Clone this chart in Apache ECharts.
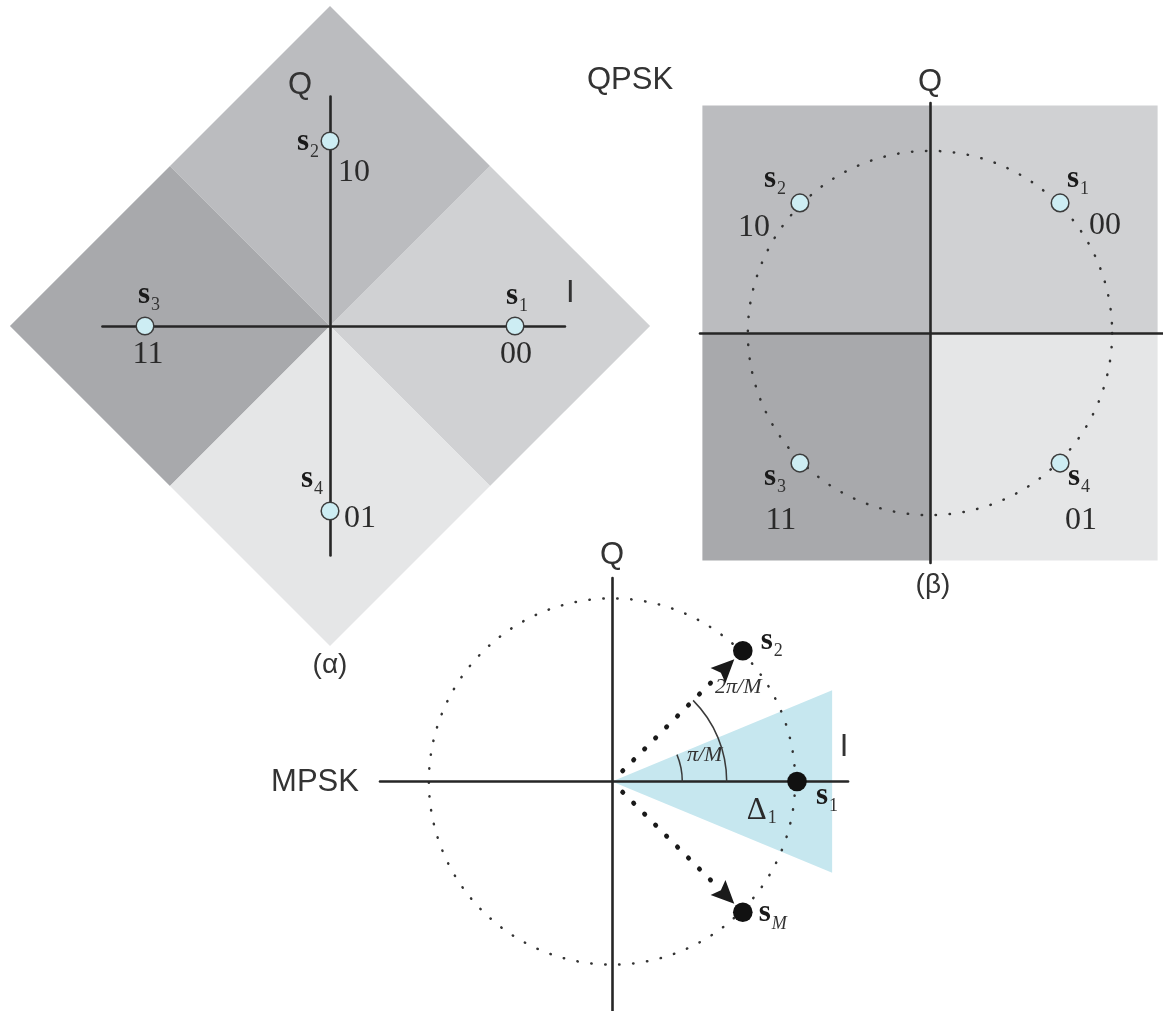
<!DOCTYPE html>
<html>
<head>
<meta charset="utf-8">
<script src="https://cdn.jsdelivr.net/npm/echarts@6/dist/echarts.min.js"></script>
<style>
  html, body { margin: 0; padding: 0; background: #ffffff; }
  #chart { width: 1163px; height: 1011px; }
</style>
</head>
<body>
<div id="chart"></div>
<script>
// ---- constellation data ----
// (α) QPSK, symbols on the axes
const rotI = [1, 0, -1, 0];
const rotQ = [0, 1, 0, -1];
const rotIdx = ['1', '2', '3', '4'];
const rotBits = ['00', '10', '11', '01'];

// (β) QPSK, symbols on the diagonals
const qpskI = [0.707, -0.707, -0.707, 0.707];
const qpskQ = [0.707, 0.707, -0.707, -0.707];
const qpskIdx = ['1', '2', '3', '4'];
const qpskBits = ['00', '10', '11', '01'];

// MPSK (M = 8): s1, s2 and sM
const M = 8;
const mpskI = [1, 0.707, 0.707];
const mpskQ = [0, 0.707, -0.707];
const mpskIdx = ['1', '2', 'M'];

// ---- styling ----
const SERIF = '"Liberation Serif", "DejaVu Serif", serif';
const SANS = '"Liberation Sans", Arial, sans-serif';
const INK = '#262626';
const regionFill = { '00': '#d0d1d3', '10': '#bbbcbf', '11': '#a8a9ac', '01': '#e5e6e7' };
const symbolFill = '#cdedf3';
const wedgeFill = '#c6e7ef';

// label offsets (pixels from the symbol centre)
const rotNameOff = [[2, -30], [-22, 1], [4, -31], [-18, -32]];
const rotBitsOff = [[1, 29], [24, 32], [3, 29], [30, 8]];
const qpskNameOff = [[18, -24], [-25, -24], [-25, 14], [19, 14]];
const qpskBitsOff = [[45, 23], [-46, 25], [-19, 58], [21, 58]];
const mpskNameOff = [[30, 14], [29, -10], [30, 1]];

// panels: centre (px), pixels per unit, axis extents
const panels = [
  { cx: 330, cy: 326, k: 185, x: [-1.23, 1.27], y: [-1.24, 1.24] },
  { cx: 930, cy: 333, k: 184, x: [-1.25, 1.265], y: [-1.25, 1.25] },
  { cx: 612, cy: 781.5, k: 185, x: [-1.254, 1.276], y: [-1.24, 1.1] }
];

function subRich(italicSub) {
  return {
    s: { fontFamily: SERIF, fontWeight: 'bold', fontSize: 31, fill: '#1a1a1a' },
    sub: { fontFamily: SERIF, fontSize: 18, fontStyle: italicSub ? 'italic' : 'normal', fill: '#333', padding: [21, 0, 0, 1] }
  };
}

function nameText(x, y, sub, italicSub) {
  return {
    type: 'text', x: x, y: y, z2: 10,
    style: { text: '{s|s}{sub|' + sub + '}', rich: subRich(italicSub), align: 'center', verticalAlign: 'middle' }
  };
}

function plainText(x, y, txt) {
  return {
    type: 'text', x: x, y: y, z2: 10,
    style: { text: txt, font: '32px ' + SERIF, fill: '#2a2a2a', align: 'center', verticalAlign: 'middle' }
  };
}

// hollow light-blue symbols with two labels each
function qpskPoints(gi, I, Q, idx, bits, nOff, bOff) {
  return {
    type: 'custom', xAxisIndex: gi, yAxisIndex: gi, z: 6,
    data: I.map((v, i) => [v, Q[i]]),
    renderItem(params, api) {
      const i = params.dataIndex;
      const p = api.coord([api.value(0), api.value(1)]);
      return {
        type: 'group',
        children: [
          { type: 'circle', shape: { cx: p[0], cy: p[1], r: 8.8 }, style: { fill: symbolFill, stroke: '#3c3c3c', lineWidth: 1.5 } },
          nameText(p[0] + nOff[i][0], p[1] + nOff[i][1], idx[i], false),
          plainText(p[0] + bOff[i][0], p[1] + bOff[i][1], bits[i])
        ]
      };
    }
  };
}

function dottedCircle(gi, r) {
  return {
    type: 'custom', xAxisIndex: gi, yAxisIndex: gi, z: 2,
    data: [[0, 0]],
    renderItem(params, api) {
      const c = api.coord([0, 0]);
      const rr = api.size([r, r])[0];
      return {
        type: 'circle', shape: { cx: c[0], cy: c[1], r: rr },
        style: { fill: null, stroke: '#333', lineWidth: 2.5, lineDash: [0.4, 13.6], lineCap: 'round' }
      };
    }
  };
}

const option = {
  animation: false,
  backgroundColor: '#ffffff',
  grid: panels.map(p => ({
    left: p.cx + p.x[0] * p.k,
    top: p.cy - p.y[1] * p.k,
    width: (p.x[1] - p.x[0]) * p.k,
    height: (p.y[1] - p.y[0]) * p.k,
    containLabel: false
  })),
  xAxis: panels.map((p, i) => ({
    gridIndex: i, type: 'value', min: p.x[0], max: p.x[1], z: 4,
    axisLine: { show: true, onZero: true, lineStyle: { color: INK, width: 2.6 } },
    axisTick: { show: false }, axisLabel: { show: false }, splitLine: { show: false },
    name: i === 1 ? '' : 'I', nameLocation: 'end', nameGap: i === 0 ? 1 : -4,
    nameTextStyle: { fontFamily: SANS, fontSize: 31, color: '#333', align: i === 0 ? 'left' : 'center',
      verticalAlign: 'bottom', padding: [0, 0, i === 0 ? 17 : 19, 0] }
  })),
  yAxis: panels.map((p, i) => ({
    gridIndex: i, type: 'value', min: p.y[0], max: p.y[1], z: 4,
    axisLine: { show: true, onZero: true, lineStyle: { color: INK, width: 2.6 } },
    axisTick: { show: false }, axisLabel: { show: false }, splitLine: { show: false },
    name: 'Q', nameLocation: 'end', nameGap: i === 0 ? -4 : (i === 1 ? 5 : 7),
    nameTextStyle: { fontFamily: SANS, fontSize: 31, color: '#333', align: i === 0 ? 'right' : 'center',
      verticalAlign: 'bottom', padding: i === 0 ? [0, 18, 0, 0] : 0 }
  })),
  graphic: [
    { type: 'text', x: 630, y: 80, style: { text: 'QPSK', font: '31px ' + SANS, fill: '#333', align: 'center', verticalAlign: 'middle' } },
    { type: 'text', x: 315, y: 782, style: { text: 'MPSK', font: '31px ' + SANS, fill: '#333', align: 'center', verticalAlign: 'middle' } },
    { type: 'text', x: 330, y: 665, style: { text: '(α)', font: '28px ' + SANS, fill: '#333', align: 'center', verticalAlign: 'middle' } },
    { type: 'text', x: 933, y: 585, style: { text: '(β)', font: '28px ' + SANS, fill: '#333', align: 'center', verticalAlign: 'middle' } }
  ],
  series: [
    // (α) decision regions: the diamond split into four squares
    {
      type: 'custom', xAxisIndex: 0, yAxisIndex: 0, z: 1,
      data: rotI.map((v, i) => [v, rotQ[i]]),
      renderItem(params, api) {
        const R = 1.73;
        const th = Math.atan2(api.value(1), api.value(0));
        const h = R / Math.SQRT2;
        const verts = [
          [0, 0],
          [h * Math.cos(th - Math.PI / 4), h * Math.sin(th - Math.PI / 4)],
          [R * Math.cos(th), R * Math.sin(th)],
          [h * Math.cos(th + Math.PI / 4), h * Math.sin(th + Math.PI / 4)]
        ].map(v => api.coord(v));
        return { type: 'polygon', shape: { points: verts }, style: { fill: regionFill[rotBits[params.dataIndex]] } };
      }
    },
    // (β) decision regions: the four quadrants
    {
      type: 'custom', xAxisIndex: 1, yAxisIndex: 1, z: 1,
      data: qpskI.map((v, i) => [v, qpskQ[i]]),
      renderItem(params, api) {
        const E = 1.237;
        const a = api.coord([0, 0]);
        const b = api.coord([Math.sign(api.value(0)) * E, Math.sign(api.value(1)) * E]);
        return {
          type: 'rect',
          shape: { x: Math.min(a[0], b[0]), y: Math.min(a[1], b[1]), width: Math.abs(b[0] - a[0]), height: Math.abs(b[1] - a[1]) },
          style: { fill: regionFill[qpskBits[params.dataIndex]] }
        };
      }
    },
    dottedCircle(1, 0.99),
    qpskPoints(0, rotI, rotQ, rotIdx, rotBits, rotNameOff, rotBitsOff),
    qpskPoints(1, qpskI, qpskQ, qpskIdx, qpskBits, qpskNameOff, qpskBitsOff),

    // MPSK decision wedge around s1, half-angle π/M
    {
      type: 'custom', xAxisIndex: 2, yAxisIndex: 2, z: 1,
      data: [[mpskI[0], mpskQ[0]]],
      renderItem(params, api) {
        const reach = 1.19;
        const t = Math.tan(Math.PI / M);
        const pts = [[0, 0], [reach, reach * t], [reach, -reach * t]].map(v => api.coord(v));
        const c = api.coord([reach * 2 / 3, 0]);
        return {
          type: 'group',
          children: [
            { type: 'polygon', shape: { points: pts }, style: { fill: wedgeFill } },
            {
              type: 'text', x: c[0] + 3, y: c[1] + 29, z2: 10,
              style: {
                text: '{d|Δ}{sub|1}', align: 'center', verticalAlign: 'middle',
                rich: {
                  d: { fontFamily: SERIF, fontSize: 31, fill: '#2a2a2a' },
                  sub: { fontFamily: SERIF, fontSize: 18, fill: '#333', padding: [15, 0, 0, 1] }
                }
              }
            }
          ]
        };
      }
    },
    dottedCircle(2, 0.99),
    // angle arcs π/M and 2π/M
    {
      type: 'custom', xAxisIndex: 2, yAxisIndex: 2, z: 5,
      data: [[0.38, 1, 0.52, 0.272, 'π/M'], [0.62, 2, 0.85, 0.639, '2π/M']],
      renderItem(params, api) {
        const c = api.coord([0, 0]);
        const r = api.size([api.value(0), 0])[0];
        const ang = api.value(1) * Math.PI / M;
        const lr = api.size([api.value(2), 0])[0];
        const la = api.value(3);
        return {
          type: 'group',
          children: [
            { type: 'arc', shape: { cx: c[0], cy: c[1], r: r, startAngle: 0, endAngle: -ang, clockwise: false },
              style: { fill: null, stroke: '#3a3a3a', lineWidth: 1.5 } },
            { type: 'text', x: c[0] + lr * Math.cos(la), y: c[1] - lr * Math.sin(la),
              style: { text: api.value(4), font: 'italic 22px ' + SERIF, fill: '#333', align: 'center', verticalAlign: 'middle' } }
          ]
        };
      }
    },
    // dotted arrows from the origin towards s2 and sM
    {
      type: 'custom', xAxisIndex: 2, yAxisIndex: 2, z: 6,
      data: [[mpskI[1], mpskQ[1]], [mpskI[2], mpskQ[2]]],
      renderItem(params, api) {
        const o = api.coord([0, 0]);
        const t = api.coord([api.value(0) * 0.935, api.value(1) * 0.935]);
        const dx = t[0] - o[0], dy = t[1] - o[1];
        const L = Math.hypot(dx, dy);
        const d = [dx / L, dy / L], n = [-d[1], d[0]];
        const head = [
          t,
          [t[0] - 23 * d[0] + 10.5 * n[0], t[1] - 23 * d[1] + 10.5 * n[1]],
          [t[0] - 19 * d[0], t[1] - 19 * d[1]],
          [t[0] - 23 * d[0] - 10.5 * n[0], t[1] - 23 * d[1] - 10.5 * n[1]]
        ];
        return {
          type: 'group',
          children: [
            { type: 'line', shape: { x1: o[0] + 15 * d[0], y1: o[1] + 15 * d[1], x2: t[0] - 26 * d[0], y2: t[1] - 26 * d[1] },
              style: { stroke: '#1a1a1a', lineWidth: 4.8, lineDash: [0.4, 15.1], lineCap: 'round' } },
            { type: 'polygon', shape: { points: head }, style: { fill: '#1a1a1a' } }
          ]
        };
      }
    },
    // MPSK symbols
    {
      type: 'custom', xAxisIndex: 2, yAxisIndex: 2, z: 7,
      data: mpskI.map((v, i) => [v, mpskQ[i]]),
      renderItem(params, api) {
        const i = params.dataIndex;
        const p = api.coord([api.value(0), api.value(1)]);
        return {
          type: 'group',
          children: [
            { type: 'circle', shape: { cx: p[0], cy: p[1], r: 9.8 }, style: { fill: '#111' } },
            nameText(p[0] + mpskNameOff[i][0], p[1] + mpskNameOff[i][1], mpskIdx[i], mpskIdx[i] === 'M')
          ]
        };
      }
    }
  ]
};

const chart = echarts.init(document.getElementById('chart'), null, { renderer: 'canvas' });
chart.setOption(option);
</script>
</body>
</html>
